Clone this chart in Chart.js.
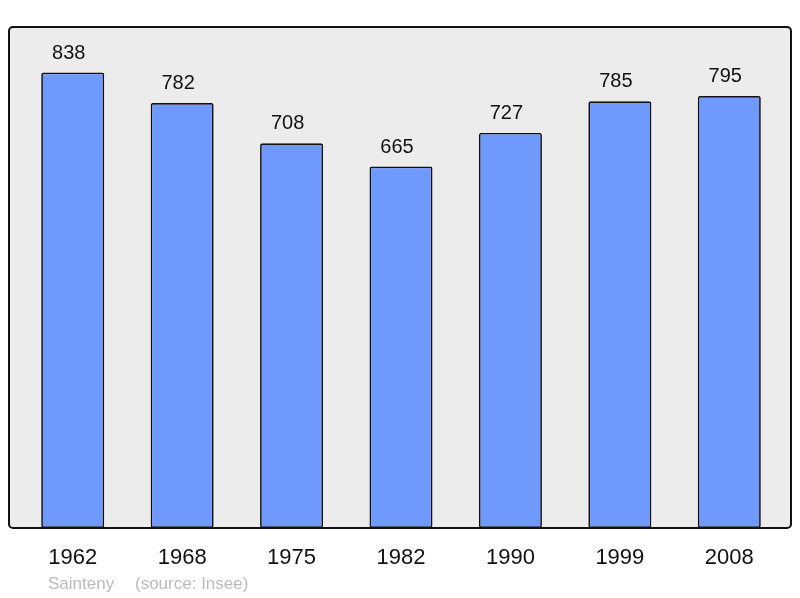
<!DOCTYPE html>
<html>
<head>
<meta charset="utf-8">
<script src="https://cdn.jsdelivr.net/npm/chart.js@4"></script>
<style>
  html, body { margin: 0; padding: 0; background: #fff; }
  #wrap { width: 800px; height: 598px; }
</style>
</head>
<body>
<div id="wrap"><canvas id="popChart" width="800" height="598"></canvas></div>
<script>
// Data
const YEARS = ['1962', '1968', '1975', '1982', '1990', '1999', '2008'];
const POPULATION = [838, 782, 708, 665, 727, 785, 795];
const PLACE_NAME = 'Sainteny';
const SOURCE_TEXT = '(source: Insee)';

const FONT = '"Liberation Sans", Arial, sans-serif';

// Grey framed box behind the plot
const frameBox = {
    id: 'frameBox',
    beforeDraw: (chart) => {
        const { ctx, chartArea: { left, right, top, bottom } } = chart;
        const x = left - 9, y = top - 1, w = right - left + 16, h = bottom - top + 1, r = 4;
        ctx.save();
        ctx.beginPath();
        ctx.roundRect(x, y, w, h, r);
        ctx.fillStyle = '#ececec';
        ctx.fill();
        ctx.restore();
    },
    afterDatasetsDraw: (chart) => {
        const { ctx, chartArea: { left, right, top, bottom } } = chart;
        const x = left - 9, y = top - 1, w = right - left + 16, h = bottom - top + 1, r = 4;
        ctx.save();
        ctx.beginPath();
        ctx.roundRect(x, y, w, h, r);
        ctx.lineWidth = 2;
        ctx.strokeStyle = '#111';
        ctx.stroke();

        // value labels above bars (sit slightly left of bar centre in the original)
        ctx.fillStyle = '#111';
        ctx.font = '20px ' + FONT;
        ctx.textAlign = 'center';
        ctx.textBaseline = 'alphabetic';
        chart.getDatasetMeta(0).data.forEach((bar, i) => {
            ctx.fillText(String(POPULATION[i]), bar.x - 4, bar.y - 14);
        });

        // source line
        ctx.fillStyle = '#bbbbbb';
        ctx.font = '17px ' + FONT;
        ctx.textAlign = 'left';
        ctx.fillText(PLACE_NAME, 48, 589);
        ctx.fillText(SOURCE_TEXT, 135, 589);
        ctx.restore();
    }
};

const ctx = document.getElementById('popChart').getContext('2d');
new Chart(ctx, {
    type: 'bar',
    data: {
        labels: YEARS,
        datasets: [{
            data: POPULATION,
            backgroundColor: '#7099ff',
            borderColor: '#111',
            borderWidth: 1.7,
            borderRadius: 2,
            borderSkipped: false,
            categoryPercentage: 1,
            barPercentage: 0.576
        }]
    },
    options: {
        responsive: false,
        animation: false,
        layout: {
            padding: { left: 18, right: 16, top: 28, bottom: 9.6 }
        },
        plugins: {
            legend: { display: false },
            tooltip: { enabled: false }
        },
        scales: {
            x: {
                grid: { display: false, drawTicks: false },
                border: { display: false },
                ticks: {
                    color: '#111',
                    padding: 17,
                    font: { family: FONT, size: 22 }
                }
            },
            y: {
                display: false,
                min: 0,
                max: 920
            }
        }
    },
    plugins: [frameBox]
});
</script>
</body>
</html>
